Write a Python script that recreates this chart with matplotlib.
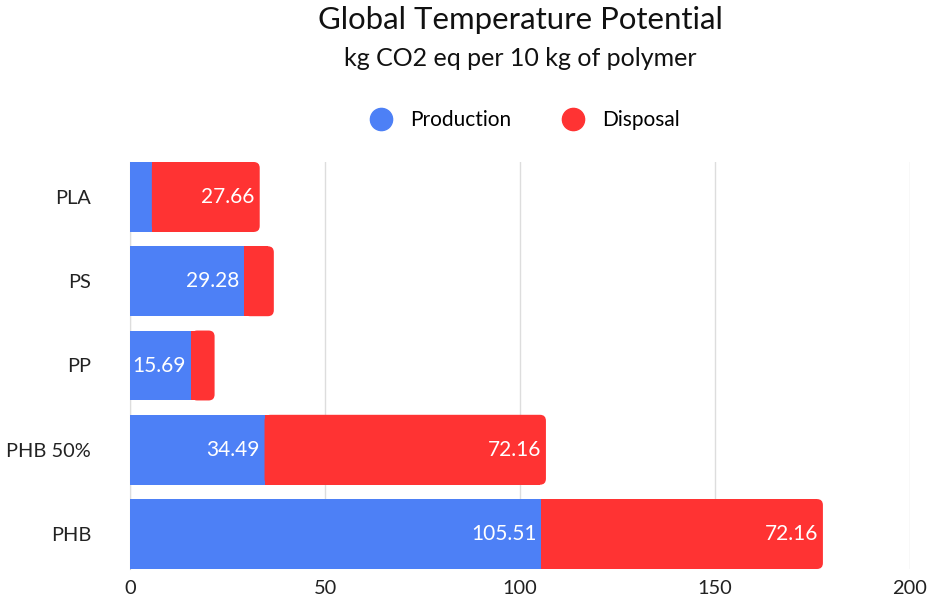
import numpy as np
import matplotlib
matplotlib.use('Agg')
import matplotlib.pyplot as plt
from matplotlib.patches import FancyBboxPatch, Rectangle
from matplotlib.lines import Line2D

plt.rcParams['font.family'] = ['Lato', 'DejaVu Sans']

categories = ['PLA', 'PS', 'PP', 'PHB 50%', 'PHB']
production = [5.6, 29.28, 15.69, 34.49, 105.51]
disposal = [27.66, 7.6, 6.0, 72.16, 72.16]
xticks = [0, 50, 100, 150, 200]

blue = '#4d80f6'
red = '#ff3333'

fig = plt.figure(figsize=(9.31, 6.01), dpi=100)
ax = fig.add_axes([130 / 931, 32 / 601, 780 / 931, 407 / 601])

y = np.arange(len(categories))
h = 0.83
bp = ax.barh(y, production, height=h, color=blue, zorder=2)
bd = ax.barh(y, disposal, left=production, height=h, color=red, zorder=2)

ax.set_xlim(0, 200)
ax.set_ylim(len(categories) - 1 + h / 2, -h / 2)

# rounded right end on the disposal bars
xpx = 780 / 200
ypx = 407 / (len(categories) - 1 + h)
r = 6 / xpx
for p in bd:
    x0, y0, w, hh = p.get_x(), p.get_y(), p.get_width(), p.get_height()
    p.set_visible(False)
    ax.add_patch(FancyBboxPatch((x0, y0), w, hh,
                                boxstyle='round,pad=0,rounding_size=%f' % r,
                                mutation_aspect=xpx / ypx,
                                fc=red, ec='none', lw=0, zorder=2))
    ax.add_patch(Rectangle((x0, y0), w - r, hh, fc=red, ec='none', lw=0,
                           zorder=2))

for bars, vals in ((bp, production), (bd, disposal)):
    for p, v in zip(bars, vals):
        if v < 10:
            continue
        ax.text(p.get_x() + p.get_width() - 1.3, p.get_y() + p.get_height() / 2,
                '%.2f' % v, color='white', ha='right', va='center',
                fontsize=15, zorder=3)

ax.set_xticks(xticks)
ax.set_yticks(y)
ax.set_yticklabels(categories)
ax.tick_params(axis='both', length=0, labelsize=14.4, colors='#222222')
ax.tick_params(axis='y', pad=28)
ax.tick_params(axis='x', pad=8)
ax.grid(axis='x', color='#dddddd', linewidth=1, zorder=0)
for s in ['top', 'right', 'bottom']:
    ax.spines[s].set_visible(False)
ax.spines['left'].set_color('#cccccc')
ax.spines['left'].set_zorder(1)

fig.text(520 / 931, 1 - 20 / 601, 'Global Temperature Potential',
         ha='center', va='center', fontsize=22.4, color='#111111')
fig.text(520 / 931, 1 - 59 / 601, 'kg CO2 eq per 10 kg of polymer',
         ha='center', va='center', fontsize=18, color='#111111')

handles = [Line2D([], [], marker='o', ls='none', ms=16, mfc=blue, mec=blue),
           Line2D([], [], marker='o', ls='none', ms=16, mfc=red, mec=red)]
fig.legend(handles, ['Production', 'Disposal'], loc='center',
           bbox_to_anchor=(520 / 931, 1 - 120 / 601), ncol=2, frameon=False,
           fontsize=15, handletextpad=0.4, columnspacing=2.0)

fig.savefig('out.png', dpi=100)
